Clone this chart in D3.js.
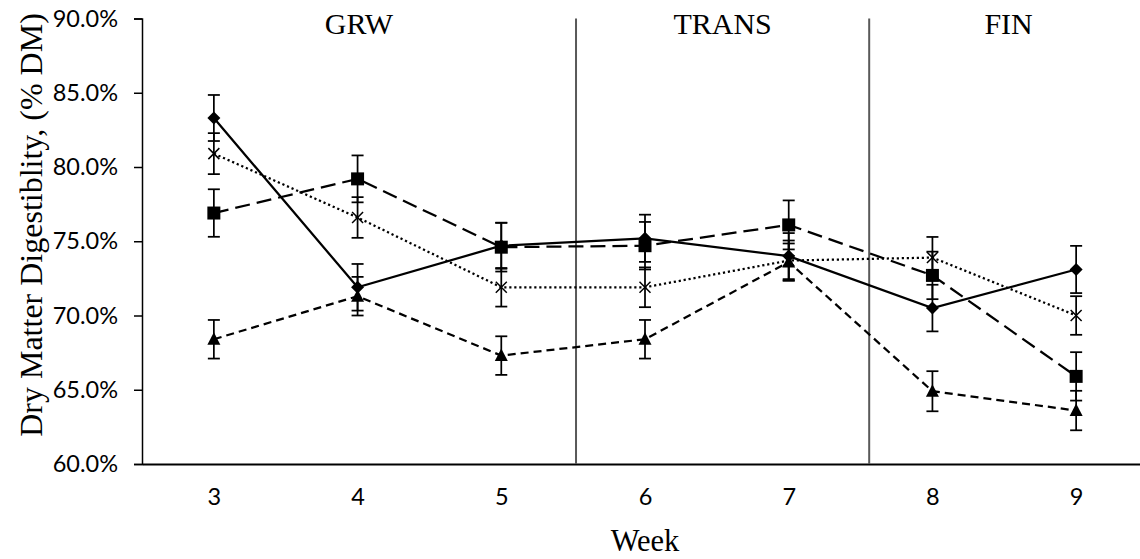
<!DOCTYPE html>
<html>
<head>
<meta charset="utf-8">
<script src="https://cdn.jsdelivr.net/npm/d3@7"></script>
<style>
  body { margin: 0; background: #fff; }
  svg { display: block; }
</style>
</head>
<body>
<svg id="chart" width="1140" height="559"></svg>
<script>
// data
const weeks = [3, 4, 5, 6, 7, 8, 9];
const yTicks = [60, 65, 70, 75, 80, 85, 90];

const diamondVals = [83.3, 71.9, 74.7, 75.2, 74.0, 70.5, 73.1];
const diamondErr = [1.55, 1.57, 1.55, 1.59, 1.55, 1.57, 1.59];
const squareVals = [76.9, 79.2, 74.6, 74.7, 76.1, 72.7, 65.9];
const squareErr = [1.6, 1.58, 1.64, 1.6, 1.65, 1.6, 1.63];
const crossVals = [80.9, 76.6, 71.9, 71.9, 73.7, 73.9, 70.0];
const crossErr = [1.38, 1.37, 1.3, 1.34, 1.35, 1.39, 1.3];
const triVals = [68.4, 71.3, 67.3, 68.4, 73.6, 64.9, 63.6];
const triErr = [1.3, 1.3, 1.3, 1.3, 1.25, 1.35, 1.33];

const phaseNames = ["GRW", "TRANS", "FIN"];
const phaseBreaks = [5.52, 7.56];

const svg = d3.select("#chart");

const plotLeft = 142, plotRight = 1148, plotTop = 18.5, plotBottom = 464;
const serif = "'Liberation Serif', 'Times New Roman', serif";
const sans = "Lato, 'Open Sans', sans-serif";

const x = d3.scaleLinear().domain([2.5, 9.5]).range([plotLeft, plotRight]);
const y = d3.scaleLinear().domain([60, 90]).range([plotBottom, plotTop]);

// y axis
const yAxis = svg.append("g")
  .attr("transform", `translate(${plotLeft},0)`)
  .call(d3.axisLeft(y).tickValues(yTicks).tickSize(8).tickPadding(16)
    .tickFormat(d => d.toFixed(1) + "%"));
yAxis.select(".domain").attr("stroke", "#000").attr("stroke-width", 1.5);
yAxis.selectAll(".tick line").attr("stroke", "#000").attr("stroke-width", 1.5);
yAxis.selectAll(".tick text")
  .attr("font-family", sans)
  .attr("font-size", 23.5)
  .attr("fill", "#000");

// x axis
const xAxis = svg.append("g")
  .attr("transform", `translate(0,${plotBottom})`)
  .call(d3.axisBottom(x).tickValues(weeks).tickSize(0).tickPadding(24)
    .tickFormat(d3.format("d")));
xAxis.select(".domain").attr("stroke", "#000").attr("stroke-width", 2);
xAxis.selectAll(".tick text")
  .attr("font-family", sans)
  .attr("font-size", 23.5)
  .attr("fill", "#000");

// phase dividers
svg.selectAll(".divider")
  .data(phaseBreaks)
  .enter().append("line")
  .attr("class", "divider")
  .attr("x1", d => x(d)).attr("x2", d => x(d))
  .attr("y1", plotTop).attr("y2", plotBottom)
  .attr("stroke", "#595959")
  .attr("stroke-width", 2);

const edges = [2.5].concat(phaseBreaks, [9.5]);
svg.selectAll(".phase")
  .data(phaseNames)
  .enter().append("text")
  .attr("class", "phase")
  .attr("x", (d, i) => (x(edges[i]) + x(edges[i + 1])) / 2)
  .attr("y", 34)
  .attr("text-anchor", "middle")
  .attr("font-family", serif)
  .attr("font-size", 30)
  .text(d => d);

// axis titles
svg.append("text")
  .attr("x", x(6)).attr("y", 551)
  .attr("text-anchor", "middle")
  .attr("font-family", serif)
  .attr("font-size", 30.5)
  .text("Week");

svg.append("text")
  .attr("transform", "translate(42,225) rotate(-90)")
  .attr("text-anchor", "middle")
  .attr("font-family", serif)
  .attr("font-size", 32)
  .text("Dry Matter Digestiblity, (% DM)");

// marker shapes
const markerPath = {
  diamond: "M0,-6.5L6.5,0L0,6.5L-6.5,0Z",
  square: "M-6.5,-6.5H6.5V6.5H-6.5Z",
  triangle: "M0,-7L6.5,5.5H-6.5Z",
  cross: "M-5.5,-5.5L5.5,5.5M5.5,-5.5L-5.5,5.5"
};

const series = [
  {vals: diamondVals, err: diamondErr, marker: "diamond", dash: null},
  {vals: squareVals, err: squareErr, marker: "square", dash: "15,7"},
  {vals: crossVals, err: crossErr, marker: "cross", dash: "2.2,2.8"},
  {vals: triVals, err: triErr, marker: "triangle", dash: "8,5"}
];

const line = d3.line().x(d => x(d.w)).y(d => y(d.v));

series.forEach(s => {
  const pts = weeks.map((w, i) => ({w: w, v: s.vals[i], e: s.err[i]}));
  const g = svg.append("g");

  g.append("path")
    .datum(pts)
    .attr("d", line)
    .attr("fill", "none")
    .attr("stroke", "#000")
    .attr("stroke-width", 2.25)
    .attr("stroke-dasharray", s.dash);

  // error bars
  const eb = g.selectAll(".eb").data(pts).enter().append("g")
    .attr("stroke", "#000").attr("stroke-width", 1.75);
  eb.append("line")
    .attr("x1", d => x(d.w)).attr("x2", d => x(d.w))
    .attr("y1", d => y(d.v - d.e)).attr("y2", d => y(d.v + d.e));
  eb.append("line")
    .attr("x1", d => x(d.w) - 6).attr("x2", d => x(d.w) + 6)
    .attr("y1", d => y(d.v + d.e)).attr("y2", d => y(d.v + d.e));
  eb.append("line")
    .attr("x1", d => x(d.w) - 6).attr("x2", d => x(d.w) + 6)
    .attr("y1", d => y(d.v - d.e)).attr("y2", d => y(d.v - d.e));

  g.selectAll(".mk").data(pts).enter().append("path")
    .attr("transform", d => `translate(${x(d.w)},${y(d.v)})`)
    .attr("d", markerPath[s.marker])
    .attr("fill", s.marker === "cross" ? "none" : "#000")
    .attr("stroke", "#000")
    .attr("stroke-width", s.marker === "cross" ? 1.5 : 0);
});
</script>
</body>
</html>
